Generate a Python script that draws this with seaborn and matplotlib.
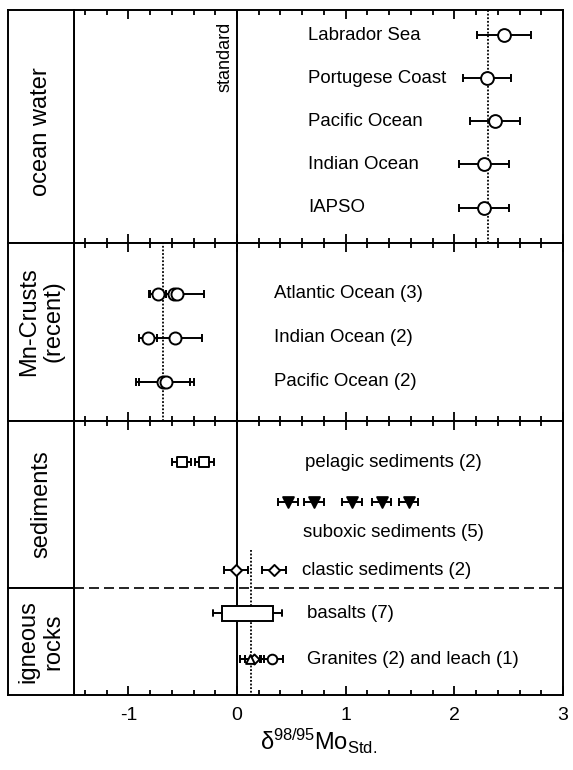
import numpy as np
import pandas as pd
import matplotlib.pyplot as plt
import seaborn as sns
from matplotlib.ticker import MultipleLocator

sns.set_style('ticks')
plt.rcParams['font.family'] = ['Liberation Sans', 'DejaVu Sans']
plt.rcParams['mathtext.fontset'] = 'custom'
plt.rcParams['mathtext.rm'] = 'Liberation Sans'
plt.rcParams['mathtext.it'] = 'Liberation Sans:italic'
plt.rcParams['axes.linewidth'] = 1.4
plt.rcParams['axes.edgecolor'] = 'black'
plt.rcParams['axes.labelcolor'] = 'black'
plt.rcParams['text.color'] = 'black'
plt.rcParams['xtick.color'] = 'black'
plt.rcParams['axes.unicode_minus'] = False

# ocean water
ocean_sites = ['Labrador Sea', 'Portugese Coast', 'Pacific Ocean', 'Indian Ocean', 'IAPSO']
ocean_mo = [2.46, 2.30, 2.37, 2.27, 2.27]
ocean_err = [0.25, 0.22, 0.23, 0.23, 0.23]
ocean_avg = 2.31

# Mn crusts (one entry per sample, group = index into crust_groups)
crust_groups = ['Atlantic Ocean (3)', 'Indian Ocean (2)', 'Pacific Ocean (2)']
crust_group = [0, 0, 0, 1, 1, 2, 2]
crust_mo = [-0.73, -0.58, -0.55, -0.82, -0.57, -0.68, -0.65]
crust_err = [0.08, 0.07, 0.25, 0.08, 0.25, 0.25, 0.25]
crust_avg = -0.68

# sediments
pelagic_mo = [-0.51, -0.30]
pelagic_err = [0.09, 0.09]
suboxic_mo = [0.47, 0.71, 1.06, 1.33, 1.58]
suboxic_err = [0.09, 0.09, 0.09, 0.09, 0.09]
clastic_mo = [-0.01, 0.34]
clastic_err = [0.11, 0.11]

# igneous rocks
basalt_range = dict(whislo=-0.22, q1=-0.14, q3=0.33, whishi=0.41)
granite_mo = [0.12, 0.16]
granite_err = [0.09, 0.09]
leach_mo = [0.32]
leach_err = [0.10]
rock_avg = 0.13

sed_labels = ['pelagic sediments (2)', 'suboxic sediments (5)', 'clastic sediments (2)',
              'basalts (7)', 'Granites (2) and leach (1)']

# ---- layout (pixel based) ----
fig = plt.figure(figsize=(5.73, 7.7), dpi=100)
L, W = 74 / 573, 489 / 573
BL, BW = 8 / 573, 66 / 573


def band(top, bot):
    return 1 - bot / 770, (bot - top) / 770


def main_axes(top, bot):
    b, h = band(top, bot)
    ax = fig.add_axes([L, b, W, h])
    ax.set_xlim(-1.5, 3)
    ax.set_yticks([])
    ax.xaxis.set_major_locator(MultipleLocator(1))
    ax.xaxis.set_minor_locator(MultipleLocator(0.2))
    ax.tick_params(axis='x', which='major', direction='in', length=6.5, width=1.3,
                   top=True, bottom=True, labelbottom=False, labelsize=14, pad=9)
    ax.tick_params(axis='x', which='minor', direction='in', length=3.6, width=1.3,
                   top=True, bottom=True)
    ax.axvline(0, color='black', lw=1.4, zorder=1)
    return ax


def label_box(top, bot, text, ypos=0.5):
    b, h = band(top, bot)
    ax = fig.add_axes([BL, b, BW, h])
    ax.set_xticks([])
    ax.set_yticks([])
    ax.text(0.5, ypos, text, rotation=90, ha='center', va='center',
            fontsize=17, linespacing=1.15, transform=ax.transAxes)


def points(ax, x, y, err, marker, s, fill='white'):
    ax.errorbar(x, y, xerr=err, fmt='none', ecolor='black', elinewidth=1.4,
                capsize=2.6, capthick=1.4, zorder=3)
    sns.scatterplot(x=x, y=y, ax=ax, marker=marker, s=s, color=fill,
                    edgecolor='black', linewidth=1.4, zorder=4, legend=False)


# ocean water
ax1 = main_axes(10, 243)
rows = np.arange(len(ocean_sites))
points(ax1, ocean_mo, rows, ocean_err, 'o', 85)
ax1.axvline(ocean_avg, color='black', lw=1.3, ls=(0, (1, 1)), zorder=2)
for r, name in zip(rows, ocean_sites):
    ax1.text(0.655, r, name, fontsize=13.4, va='center', ha='left')
ax1.text(-0.03, 0.948, 'standard', rotation=90, ha='right', va='top', fontsize=13,
         transform=ax1.get_xaxis_transform())
ax1.set_ylim(4.82, -0.58)
label_box(10, 243, 'ocean water', 0.48)

# Mn crusts
ax2 = main_axes(243, 421)
points(ax2, crust_mo, crust_group, crust_err, 'o', 75)
ax2.axvline(crust_avg, color='black', lw=1.3, ls=(0, (1, 1)), zorder=2)
for r, name in enumerate(crust_groups):
    ax2.text(0.34, r, name, fontsize=13.4, va='center', ha='left')
ax2.set_ylim(2.89, -1.16)
label_box(243, 421, 'Mn-Crusts\n(recent)', 0.56)

# sediments and igneous rocks
ax3 = main_axes(421, 695)
row_pel, row_sub, row_sub_txt, row_cla, row_split, row_bas, row_gra = 1.12, 2.18, 3.02, 4.02, 4.51, 5.19, 6.44
points(ax3, pelagic_mo, [row_pel] * len(pelagic_mo), pelagic_err, 's', 48)
points(ax3, suboxic_mo, [row_sub] * len(suboxic_mo), suboxic_err, 'v', 60, fill='black')
points(ax3, clastic_mo, [row_cla] * len(clastic_mo), clastic_err, 'D', 32)
points(ax3, leach_mo, [row_gra], leach_err, 'o', 48)
points(ax3, granite_mo[1:], [row_gra], granite_err[1:], 'D', 26)
points(ax3, granite_mo[:1], [row_gra], granite_err[:1], '^', 40)

# basalts: range box, no median drawn
stats = dict(basalt_range, med=basalt_range['q1'], fliers=[])
ax3.bxp([stats], positions=[row_bas], widths=0.4, orientation='horizontal',
        patch_artist=True, showfliers=False, manage_ticks=False, capwidths=0.16,
        boxprops=dict(facecolor='white', edgecolor='black', lw=1.4),
        whiskerprops=dict(color='black', lw=1.4), capprops=dict(color='black', lw=1.4),
        medianprops=dict(lw=0), zorder=5)

ax3.plot([rock_avg, rock_avg], [3.49, 7.4], color='black', lw=1.3, ls=(0, (1, 1)), zorder=2)
ax3.axhline(row_split, color='black', lw=1.2, ls=(0, (6, 3)), zorder=2)

for r, x, name in zip([row_pel, row_sub_txt, row_cla + 0.03, row_bas, row_gra],
                      [0.63, 0.61, 0.60, 0.64, 0.64], sed_labels):
    ax3.text(x, r, name, fontsize=13.4, va='center', ha='left')
ax3.set_ylim(7.4, 0)
ax3.tick_params(axis='x', which='major', labelbottom=True)
# seaborn hid the label earlier (tick labels were off then), so force it visible
ax3.set_xlabel('δ$^{98/95}$Mo$_{\\mathrm{Std.}}$', fontsize=17, labelpad=2, visible=True)

label_box(421, 588, 'sediments')
label_box(588, 695, 'igneous\nrocks')

fig.savefig('out.png', dpi=100)
